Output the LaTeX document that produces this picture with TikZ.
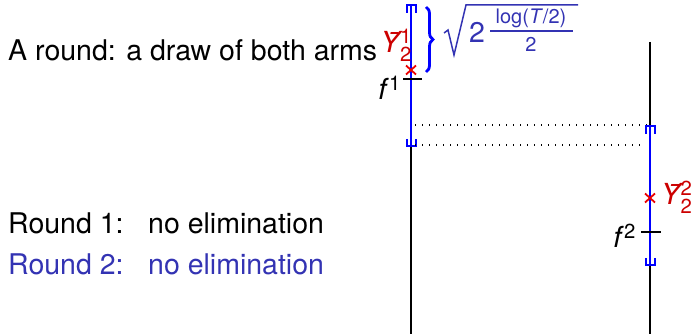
\documentclass[tikz,border=0pt]{standalone}
\usepackage{amsmath}
\usepackage{fontspec}
\setmainfont{TeX Gyre Heros}
\usetikzlibrary{decorations.pathreplacing}
\definecolor{intblue}{RGB}{0,0,255}
\definecolor{structblue}{RGB}{51,51,179}
\definecolor{labred}{RGB}{204,0,0}
\definecolor{markred}{RGB}{235,0,0}
\tikzset{
  armline/.style={line width=1.6pt, black},
  ci/.style={line width=2pt, intblue},
  tick/.style={line width=1.6pt, black},
  xmark/.style={line width=1.8pt, markred},
  dots/.style={line width=1.2pt, black, dash pattern=on 1.2pt off 5.8pt},
  txt/.style={inner sep=0pt, font=\fontsize{28.5}{34}\selectfont},
  lbl/.style={inner sep=0pt, font=\fontsize{29}{34}\selectfont},
  small/.style={inner sep=0pt, font=\fontsize{20}{24}\selectfont},
}
\newcommand{\ybar}[2]{\textit{\=Y}$^{\text{#2}}_{\text{#1}}$}
\begin{document}
\begin{tikzpicture}[x=1pt,y=-1pt]
\useasboundingbox (0,0) rectangle (693,334);
% texts
\node[txt, anchor=base west] (t1) at (8,61) {A round: a draw of both arms};
\node[txt, anchor=base west] (r1) at (8,233) {Round 1:};
\node[txt, anchor=base west] (r1b) at (148,233) {no elimination};
\node[txt, anchor=base west, text=structblue] (r2) at (8,274) {Round 2:};
\node[txt, anchor=base west, text=structblue] (r2b) at (148,274) {no elimination};
% arm 1
\coordinate (a1t) at (411,5);
\coordinate (a1b) at (411,334);
\draw[armline] (a1t) -- (a1b);
\coordinate (c1t) at (411,5);
\coordinate (c1b) at (411,146);
\draw[ci] (c1t) -- (c1b);
\draw[ci] ([xshift=-4.5pt,yshift=-8pt]c1t) -- ([xshift=-4.5pt]c1t) -- ([xshift=4.5pt]c1t) -- ([xshift=4.5pt,yshift=-8pt]c1t);
\draw[ci] ([xshift=-4.5pt,yshift=7pt]c1b) -- ([xshift=-4.5pt]c1b) -- ([xshift=4.5pt]c1b) -- ([xshift=4.5pt,yshift=7pt]c1b);
\coordinate (y1) at (411,70);
\node[lbl, anchor=east, text=labred] (y1l) at (412,45) {\ybar{2}{1}};
\draw[xmark] ([xshift=-5pt,yshift=-4.5pt]y1) -- ([xshift=5pt,yshift=4.5pt]y1);
\draw[xmark] ([xshift=-5pt,yshift=4.5pt]y1) -- ([xshift=5pt,yshift=-4.5pt]y1);
\coordinate (f1) at (411,79);
\draw[tick] ([xshift=-8pt]f1) -- ([xshift=11pt]f1);
\node[lbl, anchor=east] (f1l) at (401,88) {\textit{f}$^{\text{1}}$};
% brace
\coordinate (b1t) at (426,7);
\coordinate (b1b) at (426,72);
\draw[intblue, line width=2.8pt, decorate, decoration={brace, amplitude=7pt, raise=0pt}] (b1t) -- (b1b);
% square root label
\coordinate (rs) at (444,33);
\coordinate (rk) at (448,30);
\coordinate (rb) at (454,55);
\coordinate (rtop) at (466,5);
\coordinate (rend) at (578,5);
\draw[structblue, line width=1.5pt, line join=miter] (rs) -- (rk) -- (rb) -- (rtop) -- (rend);
\node[txt, anchor=base west, text=structblue] (two) at (469,43) {2};
\node[small, anchor=base, text=structblue] (num) at (531,24) {log(\textit{T}/2)};
\coordinate (fbl) at (490,31);
\coordinate (fbr) at (573,31);
\draw[structblue, line width=1.2pt] (fbl) -- (fbr);
\node[small, anchor=base, text=structblue] (den) at (531,52) {2};
% dotted lines
\coordinate (d1a) at (415,125);
\coordinate (d1b) at (647,125);
\coordinate (d2a) at (415,145);
\coordinate (d2b) at (645,145);
\draw[dots] (d1a) -- (d1b);
\draw[dots] (d2a) -- (d2b);
% arm 2
\coordinate (a2t) at (650,42);
\coordinate (a2b) at (650,334);
\draw[armline] (a2t) -- (a2b);
\coordinate (c2t) at (650,126);
\coordinate (c2b) at (650,265);
\draw[ci] (c2t) -- (c2b);
\draw[ci] ([xshift=-4.5pt,yshift=-8pt]c2t) -- ([xshift=-4.5pt]c2t) -- ([xshift=4.5pt]c2t) -- ([xshift=4.5pt,yshift=-8pt]c2t);
\draw[ci] ([xshift=-4.5pt,yshift=7pt]c2b) -- ([xshift=-4.5pt]c2b) -- ([xshift=4.5pt]c2b) -- ([xshift=4.5pt,yshift=7pt]c2b);
\coordinate (y2) at (650,198);
\draw[xmark] ([xshift=-5pt,yshift=-4.5pt]y2) -- ([xshift=5pt,yshift=4.5pt]y2);
\draw[xmark] ([xshift=-5pt,yshift=4.5pt]y2) -- ([xshift=5pt,yshift=-4.5pt]y2);
\coordinate (f2) at (650,232);
\draw[tick] ([xshift=-9pt]f2) -- ([xshift=11pt]f2);
\node[lbl, anchor=east] (f2l) at (636,236) {\textit{f}$^{\text{2}}$};
\node[lbl, anchor=west, text=labred] (y2l) at (661,197) {\ybar{2}{2}};
\end{tikzpicture}
\end{document}
